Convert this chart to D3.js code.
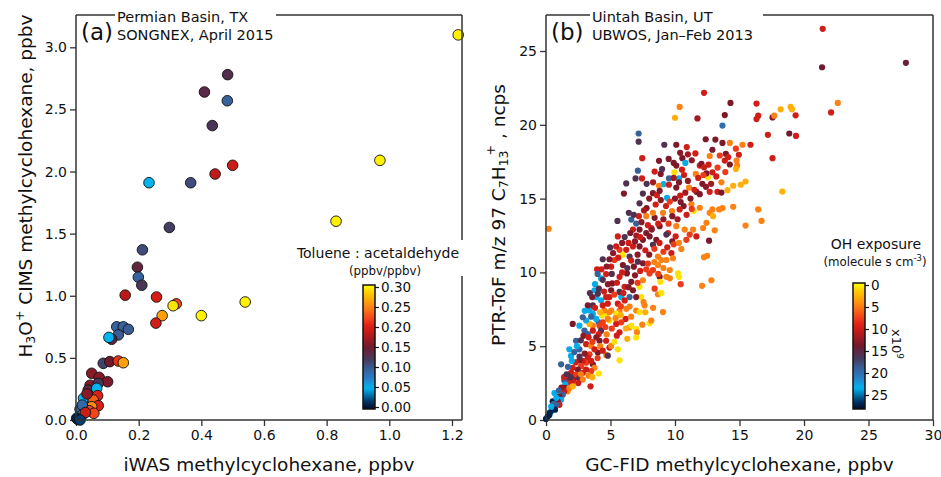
<!DOCTYPE html>
<html>
<head>
<meta charset="utf-8">
<script src="https://cdn.jsdelivr.net/npm/d3@7"></script>
<style>
  body { margin: 0; background: #fff; }
  svg { display: block; font-family: "DejaVu Sans", sans-serif; }
</style>
</head>
<body>
<div id="chart"></div>
<script>
// ---- data ----
// (a) Permian Basin: [iWAS ppbv, H3O+ CIMS ppbv, toluene:acetaldehyde]
const permianPoints = [
  [1.22, 3.10, 0.295], [0.97, 2.09, 0.295], [0.83, 1.60, 0.295], [0.54, 0.95, 0.295],
  [0.40, 0.84, 0.295], [0.32, 0.935, 0.22], [0.31, 0.92, 0.29], [0.275, 0.84, 0.26],
  [0.255, 0.78, 0.195], [0.257, 0.99, 0.195], [0.157, 1.005, 0.18], [0.484, 2.78, 0.13],
  [0.41, 2.64, 0.135], [0.483, 2.57, 0.095], [0.435, 2.37, 0.125], [0.50, 2.05, 0.19],
  [0.444, 1.98, 0.185], [0.233, 1.91, 0.05], [0.366, 1.91, 0.11], [0.298, 1.55, 0.118],
  [0.212, 1.37, 0.11], [0.196, 1.23, 0.14], [0.199, 1.15, 0.095], [0.21, 1.085, 0.125],
  [0.13, 0.75, 0.095], [0.151, 0.75, 0.095], [0.167, 0.73, 0.10], [0.135, 0.685, 0.10],
  [0.114, 0.65, 0.14], [0.105, 0.665, 0.05], [0.087, 0.456, 0.115], [0.108, 0.47, 0.15],
  [0.135, 0.475, 0.21], [0.151, 0.461, 0.26], [0.05, 0.376, 0.16], [0.074, 0.343, 0.16],
  [0.101, 0.308, 0.155], [0.045, 0.28, 0.16], [0.071, 0.295, 0.125], [0.039, 0.241, 0.135],
  [0.066, 0.255, 0.05], [0.069, 0.196, 0.20], [0.031, 0.161, 0.11], [0.024, 0.175, 0.05],
  [0.055, 0.161, 0.23], [0.071, 0.115, 0.20], [0.05, 0.107, 0.25], [0.042, 0.075, 0.22],
  [0.057, 0.054, 0.22], [0.013, 0.086, 0.09], [0.02, 0.12, 0.09], [0.035, 0.21, 0.16],
  [0.011, 0.027, 0.05], [0.02, 0.04, 0.06], [0.03, 0.06, 0.19], [0.006, 0.005, 0.03],
  [0.002, 0.014, 0.01], [0.013, 0.0, 0.02]
];

// (b) Uintah Basin: [GC-FID ppbv, PTR-ToF ncps, OH exposure (x1e9 molecule s cm-3)]
const uintahPoints = [
  [21.45, 26.5, 10], [21.4, 23.9, 14], [27.9, 24.2, 14.5], [22.1, 20.84, 10], [22.62, 21.48, 5],
  [12.25, 22.17, 10], [10.36, 21.21, 5], [10.0, 20.48, 3], [11.74, 20.43, 12], [14.3, 21.48, 13.5],
  [13.86, 20.66, 13.5], [13.68, 19.95, 20], [16.32, 21.44, 10], [16.45, 20.62, 10], [16.32, 20.39, 10],
  [17.56, 20.5, 13.5], [17.69, 20.62, 5], [18.19, 21.05, 3], [18.96, 21.21, 3], [19.07, 21.05, 3],
  [19.35, 20.64, 10], [17.2, 19.32, 10], [18.86, 19.41, 14], [19.38, 19.25, 10],
  [7.18, 19.41, 19], [7.18, 18.86, 16], [9.17, 18.65, 16], [10.1, 18.65, 13.5], [10.91, 18.49, 10],
  [11.58, 18.06, 10], [12.38, 19.02, 13.5], [13.13, 19.0, 13.5], [13.68, 18.77, 13.5], [14.25, 18.77, 5],
  [15.23, 18.65, 5], [15.85, 18.65, 10], [14.72, 18.38, 8], [14.95, 17.97, 10], [13.94, 18.04, 13.5],
  [12.9, 18.31, 13.5], [12.69, 17.88, 5], [13.47, 17.92, 8], [14.12, 17.81, 10], [14.77, 17.58, 5],
  [14.82, 17.24, 5], [14.72, 17.01, 3], [14.25, 17.31, 13.5], [13.86, 17.58, 10], [17.56, 17.74, 10],
  [7.46, 17.74, 10], [8.76, 17.56, 13.5], [9.51, 17.69, 13.5], [9.9, 17.42, 13.5], [10.57, 17.74, 13.5],
  [10.8, 17.42, 23], [10.1, 17.24, 13.5], [7.12, 16.89, 19], [7.44, 16.37, 10], [6.94, 16.37, 16],
  [6.22, 16.03, 16], [6.04, 15.34, 13.5], [7.51, 15.34, 16], [7.25, 14.68, 16], [7.8, 14.36, 13.5],
  [8.42, 16.83, 10], [8.89, 16.67, 13.5], [9.12, 15.98, 23], [9.53, 16.37, 19], [9.95, 16.78, 1],
  [10.31, 16.37, 23], [10.54, 16.96, 10], [10.1, 15.75, 13.5], [10.31, 16.1, 13.5], [9.38, 15.05, 23],
  [9.53, 15.94, 10], [8.76, 15.87, 5], [8.29, 15.37, 13.5], [8.6, 15.23, 10], [8.81, 15.53, 13.5],
  [11.09, 15.75, 5], [11.61, 16.67, 5], [11.92, 17.24, 10], [12.05, 17.35, 13.5], [12.25, 17.12, 10],
  [12.56, 16.44, 1], [12.44, 16.71, 13.5], [12.12, 16.0, 13.5], [11.66, 15.46, 13.5], [11.92, 15.3, 13.5],
  [12.69, 15.46, 10], [12.9, 16.78, 10], [13.6, 16.1, 5], [13.29, 15.46, 10], [13.6, 15.41, 13.5],
  [14.07, 15.57, 3], [14.51, 15.87, 3], [15.1, 15.94, 3], [15.47, 16.16, 3], [18.32, 15.48, 3],
  [16.45, 14.27, 5], [16.71, 13.49, 5], [15.47, 13.17, 5], [14.51, 14.45, 5], [13.68, 14.36, 5],
  [13.42, 14.27, 5], [12.9, 14.27, 5], [12.69, 14.04, 5], [12.95, 13.81, 3], [12.44, 13.36, 5],
  [13.08, 12.85, 5], [12.18, 13.01, 5], [11.45, 14.16, 1], [11.92, 14.38, 5], [11.27, 14.61, 5],
  [10.67, 14.5, 13.5], [10.44, 14.77, 13.5], [10.36, 14.27, 10], [9.77, 14.16, 5], [9.79, 13.81, 13.5],
  [9.07, 14.04, 5], [8.42, 13.7, 13.5], [8.29, 14.04, 5], [7.77, 13.81, 5], [7.2, 13.81, 10],
  [6.61, 13.58, 19], [6.99, 13.31, 19], [6.42, 14.04, 16], [5.54, 13.49, 16], [6.74, 12.9, 10],
  [6.53, 12.67, 13.5], [7.25, 12.9, 13.5], [7.77, 12.67, 13.5], [8.16, 13.01, 10], [8.81, 13.13, 13.5],
  [9.46, 12.67, 10], [10.1, 13.13, 5], [10.75, 12.9, 5], [11.4, 12.9, 5], [11.66, 12.44, 10],
  [10.88, 12.21, 8], [11.14, 12.56, 8], [10.49, 11.58, 5], [10.05, 12.44, 10], [9.79, 12.1, 13.5],
  [9.33, 12.56, 16], [9.72, 11.3, 10], [8.55, 12.21, 13.5], [8.29, 11.87, 16], [8.03, 12.44, 13.5],
  [7.51, 12.21, 13.5], [7.25, 11.76, 13.5], [6.74, 11.76, 10], [6.22, 11.53, 10], [6.48, 11.07, 16],
  [5.96, 11.19, 1], [5.7, 11.53, 8], [5.57, 12.44, 10], [5.44, 11.76, 10], [4.97, 11.69, 16],
  [5.31, 10.84, 8], [4.92, 10.89, 13.5], [4.4, 10.89, 16], [4.3, 10.21, 10], [3.96, 10.21, 10],
  [4.27, 9.59, 23], [4.66, 9.89, 10], [5.05, 10.39, 10], [5.7, 9.7, 10], [5.96, 10.5, 13.5],
  [6.27, 9.93, 13.5], [6.61, 9.36, 13.5], [6.81, 10.39, 13.5], [7.12, 10.73, 16], [7.51, 10.62, 13.5],
  [7.77, 10.21, 8], [8.03, 9.93, 8], [8.29, 10.16, 8], [8.68, 10.5, 5], [8.94, 10.84, 5],
  [8.68, 11.07, 5], [9.33, 10.84, 5], [9.84, 10.96, 5], [10.23, 9.93, 1], [10.31, 9.7, 1],
  [9.59, 10.16, 5], [8.81, 9.7, 13.5], [8.86, 9.36, 1], [8.42, 8.9, 8], [8.68, 8.52, 5],
  [8.94, 8.61, 1], [9.33, 9.7, 5], [10.44, 9.2, 8], [12.1, 9.09, 5], [12.82, 9.47, 5],
  [12.25, 11.03, 5], [12.49, 11.12, 5], [12.64, 12.15, 13.5], [0.21, 12.95, 5],
  [7.51, 9.47, 5], [7.25, 9.02, 1], [7.38, 8.33, 1], [6.99, 8.33, 13.5], [6.48, 8.33, 19],
  [6.74, 8.79, 13.5], [6.09, 9.02, 10], [5.83, 8.33, 23], [5.7, 8.68, 16], [5.13, 9.25, 13.5],
  [5.05, 8.79, 13.5], [4.92, 8.33, 10], [4.79, 7.88, 10], [5.57, 7.88, 10], [5.7, 7.42, 5],
  [5.44, 7.19, 1], [6.22, 7.53, 5], [6.48, 7.69, 5], [6.99, 7.42, 5], [7.25, 7.31, 1],
  [7.64, 7.76, 5], [7.56, 7.99, 5], [8.03, 6.55, 1], [8.16, 6.74, 5], [9.07, 7.31, 5],
  [6.48, 6.28, 5], [6.99, 6.16, 1], [7.05, 5.94, 5], [7.46, 6.46, 5], [6.99, 5.59, 1],
  [6.61, 6.39, 1], [6.17, 6.85, 10], [5.83, 6.62, 8], [5.44, 6.51, 10], [5.7, 5.94, 10],
  [5.49, 5.71, 10], [4.92, 6.74, 1], [4.66, 7.19, 1], [4.53, 7.42, 5], [4.35, 7.08, 1],
  [4.09, 6.62, 19], [3.89, 6.85, 23], [3.63, 7.19, 23], [3.37, 7.42, 23], [3.76, 8.79, 23],
  [3.89, 8.33, 23], [3.58, 8.33, 13.5], [3.24, 7.76, 13.5], [3.63, 7.76, 16], [4.02, 8.56, 16],
  [4.27, 8.11, 23], [4.4, 7.76, 10], [4.66, 8.33, 10], [5.05, 7.42, 5], [4.79, 6.85, 5],
  [4.4, 6.62, 8], [4.15, 6.39, 8], [4.27, 6.05, 16], [4.09, 5.82, 10], [3.63, 6.39, 5],
  [3.37, 6.51, 3], [3.63, 6.05, 10], [3.11, 6.74, 23], [2.85, 6.96, 19], [2.59, 6.39, 23],
  [2.07, 6.51, 13.5], [2.98, 6.05, 19], [3.24, 5.82, 19], [2.33, 5.37, 19], [1.81, 4.79, 23],
  [1.94, 4.34, 23], [2.59, 4.79, 19], [3.11, 5.14, 10], [3.5, 5.02, 5], [4.15, 5.37, 13.5],
  [4.66, 5.37, 10], [4.92, 4.91, 10], [4.66, 4.41, 5], [4.79, 4.36, 16], [5.05, 5.02, 5],
  [5.57, 4.79, 1], [5.7, 4.04, 1], [4.02, 4.57, 13.5], [3.76, 4.79, 10], [3.37, 4.45, 8],
  [3.24, 4.22, 10], [3.11, 3.88, 8], [2.85, 4.0, 10], [2.59, 4.04, 13.5], [2.72, 3.65, 8],
  [3.63, 3.77, 13.5], [3.76, 3.54, 5], [4.09, 3.15, 1], [3.5, 3.31, 8], [3.11, 3.42, 10],
  [2.85, 3.2, 10], [2.46, 3.42, 13.5], [2.07, 3.54, 10], [1.94, 3.2, 10], [2.2, 2.85, 13.5],
  [2.33, 3.08, 8], [2.59, 2.85, 16], [2.85, 2.74, 5], [2.07, 2.63, 10], [1.68, 2.67, 16],
  [1.81, 2.51, 10], [1.42, 2.67, 19], [1.17, 3.77, 19], [1.5, 2.4, 23], [1.55, 2.17, 13.5],
  [1.81, 2.17, 5], [2.07, 2.28, 3], [1.68, 1.94, 5], [1.42, 1.94, 10], [1.3, 1.71, 19],
  [1.04, 1.6, 13.5], [1.17, 1.37, 23], [0.91, 1.26, 13.5], [0.65, 1.83, 23], [1.04, 1.03, 10],
  [0.78, 1.03, 19], [0.52, 1.26, 27], [0.52, 0.8, 19], [0.39, 0.57, 23], [0.26, 0.34, 27],
  [0.13, 0.23, 27], [0.0, 0.07, 27], [3.45, 2.28, 10],
  // dense core of the cloud
  [8.5, 14.6, 10], [8.9, 14.9, 13], [9.3, 14.5, 10], [9.6, 14.8, 8], [10.0, 15.0, 13],
  [10.4, 15.2, 10], [10.8, 15.4, 12], [11.2, 15.0, 13], [11.5, 15.6, 10], [11.0, 16.2, 13],
  [11.8, 16.4, 10], [12.2, 16.6, 8], [12.8, 16.0, 12], [13.2, 16.5, 10], [13.9, 16.8, 8],
  [12.4, 15.8, 13], [11.3, 14.3, 8], [10.9, 13.9, 10], [10.2, 13.6, 12], [9.5, 13.3, 8],
  [9.1, 13.6, 13], [8.7, 13.3, 10], [8.2, 12.9, 13], [7.9, 13.2, 10], [7.4, 13.4, 13],
  [7.0, 12.5, 12], [6.8, 13.9, 16], [7.6, 14.2, 12], [8.0, 15.0, 13], [8.3, 16.1, 12],
  [7.8, 16.0, 16], [9.9, 16.4, 12], [10.7, 16.6, 10], [11.3, 17.6, 13], [12.6, 17.3, 10],
  [13.3, 17.1, 8], [10.4, 18.1, 13], [11.0, 18.0, 12], [9.0, 17.0, 16],
  [5.2, 11.3, 13], [5.6, 11.0, 10], [5.9, 12.0, 13], [6.1, 12.4, 16], [6.4, 12.0, 10],
  [6.9, 12.1, 13], [7.3, 12.4, 10], [7.7, 11.5, 10], [8.0, 11.2, 13], [8.4, 11.6, 8],
  [8.8, 12.0, 10], [9.1, 11.4, 8], [9.4, 11.7, 10], [9.9, 11.9, 8], [10.3, 12.0, 5],
  [7.1, 11.2, 13], [6.6, 10.8, 10], [6.3, 10.3, 16], [5.9, 10.0, 10], [6.9, 9.8, 13],
  [7.3, 10.1, 10], [7.9, 10.6, 8], [8.4, 10.7, 5], [8.7, 9.9, 8], [9.1, 10.3, 5],
  [9.6, 9.6, 5], [7.1, 9.3, 8], [6.4, 9.0, 13], [6.0, 8.6, 10], [5.5, 9.3, 10],
  [5.1, 9.9, 16], [4.7, 10.4, 13], [4.8, 9.2, 13], [4.4, 9.5, 16], [4.0, 9.9, 19],
  [3.8, 9.2, 23], [4.1, 8.9, 16], [4.5, 8.7, 10], [5.3, 8.5, 8],
  [2.2, 4.6, 19], [2.4, 5.0, 23], [2.7, 5.4, 16], [2.9, 5.7, 13], [3.3, 5.6, 10],
  [3.6, 5.3, 8], [3.9, 5.6, 13], [4.2, 5.0, 5], [4.4, 4.7, 10], [4.0, 4.2, 8],
  [3.5, 4.0, 10], [3.0, 4.5, 13], [2.6, 4.3, 16], [2.3, 3.9, 10], [2.0, 4.0, 23],
  [1.7, 3.6, 19], [1.9, 2.9, 16], [2.5, 2.5, 10], [2.7, 3.1, 5], [3.3, 3.0, 5],
  [3.6, 2.9, 3], [1.2, 2.2, 13], [1.4, 2.9, 10], [1.6, 3.1, 16], [1.0, 2.0, 19],
  [0.8, 1.5, 23], [0.6, 1.1, 19], [0.7, 0.7, 27], [0.4, 0.9, 23], [0.3, 0.5, 27],
  [5.1, 6.2, 8], [5.4, 6.9, 5], [5.8, 7.1, 3], [6.2, 6.2, 3], [6.6, 7.0, 5],
  [6.1, 8.1, 10], [5.8, 7.7, 8], [4.9, 7.3, 5], [4.6, 6.3, 8], [4.2, 7.3, 3],
  [3.8, 7.6, 10], [3.5, 7.0, 19], [3.0, 7.4, 23], [3.4, 8.6, 16], [4.7, 5.8, 5],
  [5.3, 5.3, 1], [6.3, 5.5, 3], [7.7, 7.3, 3], [8.3, 7.6, 5]
];

const permianXTicks = [0, 0.2, 0.4, 0.6, 0.8, 1.0, 1.2];
const permianYTicks = [0, 0.5, 1.0, 1.5, 2.0, 2.5, 3.0];
const uintahXTicks = [0, 5, 10, 15, 20, 25, 30];
const uintahYTicks = [0, 5, 10, 15, 20, 25];
const ratioTicks = [0, 0.05, 0.10, 0.15, 0.20, 0.25, 0.30];
const ohTicks = [0, 5, 10, 15, 20, 25];

// colour table (fraction along bar -> colour): navy, cyan, blue, dark, red, yellow
const cmapStops = [0, 0.06, 0.167, 0.25, 0.333, 0.40, 0.50, 0.60, 0.667, 0.733, 0.833, 0.933, 1];
const cmapColors = ["#000a24", "#003468", "#00b4f0", "#2a7cc2", "#3a5c92", "#443a5e", "#701a2e",
                    "#b81a1a", "#dc2016", "#f2461a", "#ff8a12", "#ffc800", "#ffff00"];

const cmap = d3.scaleLinear().domain(cmapStops).range(cmapColors).clamp(true);

const W = 941, H = 477;
const svg = d3.select("#chart").append("svg").attr("width", W).attr("height", H);
const defs = svg.append("defs");

const frameColor = "#333";
const titleSize = 18.5;

function drawPanel(p) {
  const g = svg.append("g");
  const x = d3.scaleLinear().domain(p.xDomain).range([p.left, p.right]);
  const y = d3.scaleLinear().domain(p.yDomain).range([p.bottom, p.top]);

  // ticks
  g.append("g")
    .attr("transform", `translate(0,${p.bottom})`)
    .call(d3.axisBottom(x).tickValues(p.xTicks).tickFormat(p.xFmt).tickSize(6).tickSizeOuter(0).tickPadding(4))
    .call(a => a.select(".domain").remove())
    .call(a => a.selectAll("line").attr("stroke", frameColor).attr("stroke-width", 1.3))
    .call(a => a.selectAll("text").attr("font-size", 14).attr("fill", "#111").attr("font-family", "DejaVu Sans"));

  g.append("g")
    .attr("transform", `translate(${p.left},0)`)
    .call(d3.axisLeft(y).tickValues(p.yTicks).tickFormat(p.yFmt).tickSize(6).tickSizeOuter(0).tickPadding(3))
    .call(a => a.select(".domain").remove())
    .call(a => a.selectAll("line").attr("stroke", frameColor).attr("stroke-width", 1.3))
    .call(a => a.selectAll("text").attr("font-size", 14).attr("fill", "#111").attr("font-family", "DejaVu Sans"));

  // points
  g.append("g").selectAll("circle")
    .data(p.data)
    .enter()
    .append("circle")
    .attr("cx", d => x(d[0]))
    .attr("cy", d => y(d[1]))
    .attr("r", p.r)
    .attr("fill", d => cmap(p.toT(d[2])))
    .attr("stroke", p.stroke)
    .attr("stroke-width", p.stroke === "none" ? 0 : 0.9);

  // frame: left, bottom, right, top with a gap for the title
  const frame = g.append("g").attr("stroke", frameColor).attr("stroke-width", 1.5).attr("fill", "none");
  frame.append("line").attr("x1", p.left).attr("x2", p.left).attr("y1", p.top).attr("y2", p.bottom);
  frame.append("line").attr("x1", p.left).attr("x2", p.right).attr("y1", p.bottom).attr("y2", p.bottom);
  frame.append("line").attr("x1", p.right).attr("x2", p.right).attr("y1", p.top).attr("y2", p.bottom);
  frame.append("line").attr("x1", p.left).attr("x2", p.gapStart).attr("y1", p.top).attr("y2", p.top);
  frame.append("line").attr("x1", p.gapEnd).attr("x2", p.right).attr("y1", p.top).attr("y2", p.top);

  // panel label and site text
  g.append("text").attr("x", p.left + 5).attr("y", 40).attr("font-size", 23).attr("fill", "#111").text(p.letter);
  g.append("text").attr("x", p.gapStart + 2).attr("y", 22).attr("font-size", 14.5).attr("fill", "#111").text(p.site1);
  g.append("text").attr("x", p.gapStart + 2).attr("y", 40).attr("font-size", 14.5).attr("fill", "#111").text(p.site2);

  // x title
  g.append("text")
    .attr("x", (p.left + p.right) / 2).attr("y", 471)
    .attr("text-anchor", "middle").attr("font-size", titleSize).attr("fill", "#111")
    .text(p.xTitle);

  return { g, x, y };
}

// ---- panel (a) ----
drawPanel({
  left: 76, right: 462, top: 15, bottom: 420,
  xDomain: [0, 1.232], yDomain: [0, 3.26],
  xTicks: permianXTicks, yTicks: permianYTicks,
  xFmt: d3.format(".1f"), yFmt: d3.format(".1f"),
  data: permianPoints, r: 5.3, stroke: "#111",
  toT: v => v / 0.30,
  gapStart: 115, gapEnd: 276,
  letter: "(a)", site1: "Permian Basin, TX", site2: "SONGNEX, April 2015",
  xTitle: "iWAS methylcyclohexane, ppbv"
});

const yta = svg.append("text")
  .attr("transform", "translate(32,186) rotate(-90)")
  .attr("text-anchor", "middle").attr("font-size", titleSize).attr("fill", "#111");
yta.append("tspan").text("H");
yta.append("tspan").attr("font-size", 12.5).attr("baseline-shift", "-25%").text("3");
yta.append("tspan").text("O");
yta.append("tspan").attr("font-size", 12.5).attr("baseline-shift", "60%").text("+");
yta.append("tspan").text(" CIMS methylcyclohexane, ppbv");

// ---- panel (b) ----
drawPanel({
  left: 546, right: 933, top: 15, bottom: 420,
  xDomain: [0, 30], yDomain: [0, 27.44],
  xTicks: uintahXTicks, yTicks: uintahYTicks,
  xFmt: d3.format("d"), yFmt: d3.format("d"),
  data: uintahPoints, r: 3.1, stroke: "none",
  toT: v => 1 - v / 28,
  gapStart: 590, gapEnd: 763,
  letter: "(b)", site1: "Uintah Basin, UT", site2: "UBWOS, Jan\u2013Feb 2013",
  xTitle: "GC-FID methylcyclohexane, ppbv"
});

const ytb = svg.append("text")
  .attr("transform", "translate(505,215) rotate(-90)")
  .attr("text-anchor", "middle").attr("font-size", titleSize).attr("fill", "#111");
ytb.append("tspan").text("PTR-ToF m/z 97 C");
ytb.append("tspan").attr("font-size", 12.5).attr("baseline-shift", "-25%").text("7");
ytb.append("tspan").text("H");
ytb.append("tspan").attr("font-size", 12.5).attr("baseline-shift", "-25%").text("13");
ytb.append("tspan").attr("font-size", 12.5).attr("baseline-shift", "80%").attr("dx", -5).text("+");
ytb.append("tspan").text(" , ncps");

// ---- colour bars (same table, t = 0 at the bottom) ----
const lg = defs.append("linearGradient").attr("id", "gradBar")
  .attr("x1", 0).attr("x2", 0).attr("y1", 1).attr("y2", 0);
d3.range(0, 1.0001, 0.02).forEach(t => {
  lg.append("stop").attr("offset", t).attr("stop-color", cmap(t));
});

function colorBar(c) {
  const g = svg.append("g");
  if (c.mask) {
    g.append("rect").attr("x", c.mask[0]).attr("y", c.mask[1]).attr("width", c.mask[2]).attr("height", c.mask[3]).attr("fill", "#fff");
  }
  g.append("text").attr("x", c.cx).attr("y", c.titleY).attr("text-anchor", "middle")
    .attr("font-size", 14).attr("fill", "#111").text(c.title);
  const sub = g.append("text").attr("x", c.subX).attr("y", c.titleY + 17).attr("text-anchor", "middle")
    .attr("font-size", 11.8).attr("fill", "#111");
  c.sub(sub);
  g.append("rect").attr("x", c.x).attr("y", c.y0).attr("width", c.w).attr("height", c.y1 - c.y0)
    .attr("fill", "url(#gradBar)").attr("stroke", "#111").attr("stroke-width", 1.5);
  const s = d3.scaleLinear().domain(c.domain).range(c.range);
  g.append("g").attr("transform", `translate(${c.x + c.w},0)`)
    .call(d3.axisRight(s).tickValues(c.ticks).tickFormat(c.fmt).tickSize(4).tickPadding(2))
    .call(a => a.select(".domain").remove())
    .call(a => a.selectAll("line").attr("stroke", "#111").attr("stroke-width", 1.2))
    .call(a => a.selectAll("text").attr("font-size", 13.5).attr("fill", "#111").attr("font-family", "DejaVu Sans"));
  return g;
}

colorBar({
  cx: 378, subX: 385, titleY: 258, title: "Toluene : acetaldehyde",
  sub: t => t.text("(ppbv/ppbv)"),
  mask: [295, 240, 172, 36],
  x: 363, w: 12, y0: 285, y1: 409,
  domain: [0, 0.30], range: [407, 287], ticks: ratioTicks, fmt: d3.format(".2f")
});

colorBar({
  cx: 876, subX: 875, titleY: 249, title: "OH exposure",
  sub: t => {
    t.append("tspan").text("(molecule s  cm");
    t.append("tspan").attr("font-size", 8.5).attr("baseline-shift", "super").text("-3");
    t.append("tspan").text(")");
  },
  x: 853, w: 12, y0: 283, y1: 409,
  domain: [0, 28], range: [285, 408.2], ticks: ohTicks, fmt: d3.format("d")
});

const x109 = svg.append("text")
  .attr("transform", "translate(892,329) rotate(90)")
  .attr("font-size", 13).attr("fill", "#111");
x109.append("tspan").text("x10");
x109.append("tspan").attr("font-size", 9).attr("baseline-shift", "super").text("9");
</script>
</body>
</html>
